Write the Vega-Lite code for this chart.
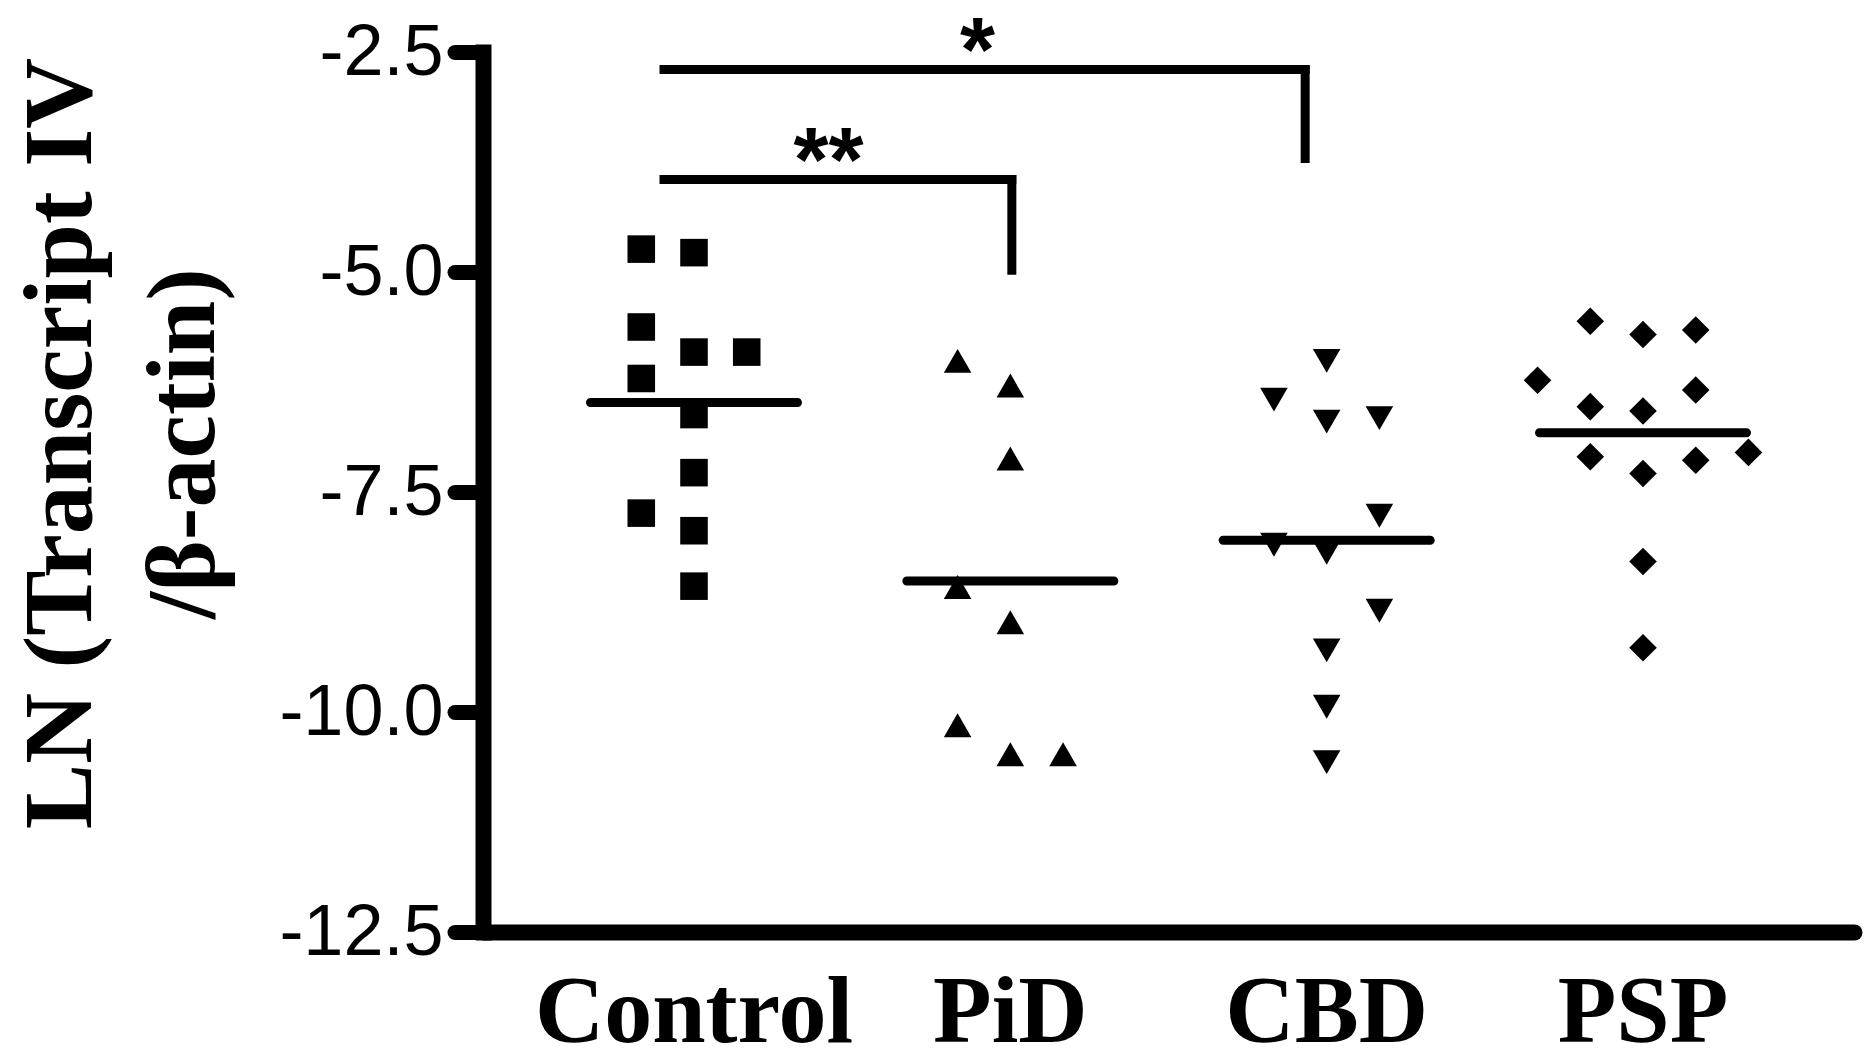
{
  "$schema": "https://vega.github.io/schema/vega-lite/v6.json",
  "width": 1371,
  "height": 880,
  "autosize": "none",
  "padding": {"left": 483, "top": 52, "right": 17, "bottom": 129},
  "background": "white",
  "config": {"view": {"stroke": null}, "axis": {"grid": false}},
  "datasets": {
    "points": [
      {"group": "Control", "slot": -1, "value": -4.74},
      {"group": "Control", "slot": 0, "value": -4.78},
      {"group": "Control", "slot": -1, "value": -5.625},
      {"group": "Control", "slot": 0, "value": -5.91},
      {"group": "Control", "slot": 1, "value": -5.91},
      {"group": "Control", "slot": -1, "value": -6.21},
      {"group": "Control", "slot": 0, "value": -6.62},
      {"group": "Control", "slot": 0, "value": -7.28},
      {"group": "Control", "slot": -1, "value": -7.74},
      {"group": "Control", "slot": 0, "value": -7.94},
      {"group": "Control", "slot": 0, "value": -8.57},
      {"group": "PiD", "slot": -1, "value": -6.01},
      {"group": "PiD", "slot": 0, "value": -6.29},
      {"group": "PiD", "slot": 0, "value": -7.12},
      {"group": "PiD", "slot": -1, "value": -8.58},
      {"group": "PiD", "slot": 0, "value": -8.98},
      {"group": "PiD", "slot": -1, "value": -10.15},
      {"group": "PiD", "slot": 0, "value": -10.48},
      {"group": "PiD", "slot": 1, "value": -10.48},
      {"group": "CBD", "slot": 0, "value": -6.01},
      {"group": "CBD", "slot": -1, "value": -6.45},
      {"group": "CBD", "slot": 0, "value": -6.70},
      {"group": "CBD", "slot": 1, "value": -6.66},
      {"group": "CBD", "slot": 1, "value": -7.77},
      {"group": "CBD", "slot": -1, "value": -8.10},
      {"group": "CBD", "slot": 0, "value": -8.19},
      {"group": "CBD", "slot": 1, "value": -8.85},
      {"group": "CBD", "slot": 0, "value": -9.30},
      {"group": "CBD", "slot": 0, "value": -9.94},
      {"group": "CBD", "slot": 0, "value": -10.57},
      {"group": "PSP", "slot": -1, "value": -5.56},
      {"group": "PSP", "slot": 0, "value": -5.71},
      {"group": "PSP", "slot": 1, "value": -5.66},
      {"group": "PSP", "slot": -2, "value": -6.23},
      {"group": "PSP", "slot": 1, "value": -6.34},
      {"group": "PSP", "slot": -1, "value": -6.53},
      {"group": "PSP", "slot": 0, "value": -6.58},
      {"group": "PSP", "slot": -1, "value": -7.10},
      {"group": "PSP", "slot": 0, "value": -7.29},
      {"group": "PSP", "slot": 1, "value": -7.14},
      {"group": "PSP", "slot": 2, "value": -7.05},
      {"group": "PSP", "slot": 0, "value": -8.29},
      {"group": "PSP", "slot": 0, "value": -9.27}
    ]
  },
  "layer": [
    {
      "data": {"name": "points"},
      "mark": {"type": "point", "filled": true, "size": 760, "opacity": 1, "color": "black", "strokeWidth": 0},
      "encoding": {
        "x": {
          "field": "group", "type": "nominal",
          "scale": {"type": "band", "domain": ["Control", "PiD", "CBD", "PSP"], "paddingInner": 0, "paddingOuter": 0.167},
          "axis": {
            "title": null, "ticks": false, "domainWidth": 16, "domainColor": "black", "domainCap": "round",
            "labelFont": "Liberation Serif", "labelFontWeight": "bold", "labelFontSize": 96, "labelColor": "black",
            "labelBaseline": "alphabetic", "labelPadding": 109, "labelAngle": 0, "labelLimit": 1000
          }
        },
        "xOffset": {
          "field": "slot", "type": "ordinal",
          "scale": {"type": "point", "domain": [-2, -1, 0, 1, 2], "padding": 1.95}
        },
        "y": {
          "field": "value", "type": "quantitative",
          "scale": {"domain": [-12.5, -2.5], "nice": false, "zero": false},
          "axis": {
            "title": ["LN (Transcript IV", "/β-actin)"],
            "values": [-2.5, -5, -7.5, -10, -12.5],
            "labelExpr": "datum.value % 1 == 0 ? datum.value + '.0' : '' + datum.value",
            "labelOverlap": false,
            "domainWidth": 16, "domainColor": "black", "domainCap": "square",
            "tickWidth": 15, "tickColor": "black", "tickSize": 28.5, "tickCap": "round",
            "labelFont": "Liberation Sans", "labelFontSize": 72, "labelColor": "black", "labelPadding": 11.5,
            "titleFont": "Liberation Serif", "titleFontWeight": "bold", "titleFontSize": 98, "titleLineHeight": 123,
            "titleColor": "black", "titleX": -393, "titleY": 391, "titleAlign": "center", "titleBaseline": "alphabetic", "titleAngle": 270
          }
        },
        "shape": {
          "field": "group", "type": "nominal",
          "scale": {"domain": ["Control", "PiD", "CBD", "PSP"], "range": ["square", "triangle-up", "triangle-down", "diamond"]},
          "legend": null
        }
      }
    },
    {
      "data": {"name": "points"},
      "mark": {"type": "tick", "size": 216, "thickness": 9, "cornerRadius": 4.5, "color": "black", "opacity": 1},
      "encoding": {
        "x": {"field": "group", "type": "nominal"},
        "y": {"aggregate": "mean", "field": "value", "type": "quantitative"}
      }
    },
    {
      "data": {"values": [{"from": "Control", "to": "CBD", "y": -2.70}]},
      "mark": {"type": "rule", "strokeWidth": 9, "strokeCap": "square", "color": "black", "xOffset": -30, "x2Offset": -21.5},
      "encoding": {
        "x": {"field": "from", "type": "nominal", "bandPosition": 0.5},
        "x2": {"field": "to", "bandPosition": 0.5},
        "y": {"field": "y", "type": "quantitative"}
      }
    },
    {
      "data": {"values": [{"g": "CBD", "y": -2.70, "y2": -3.71}]},
      "mark": {"type": "rule", "strokeWidth": 9, "strokeCap": "square", "color": "black", "xOffset": -21.5},
      "encoding": {
        "x": {"field": "g", "type": "nominal", "bandPosition": 0.5},
        "y": {"field": "y", "type": "quantitative"},
        "y2": {"field": "y2"}
      }
    },
    {
      "data": {"values": [{"from": "Control", "to": "PiD", "y": -3.95}]},
      "mark": {"type": "rule", "strokeWidth": 9, "strokeCap": "square", "color": "black", "xOffset": -30, "x2Offset": 1.5},
      "encoding": {
        "x": {"field": "from", "type": "nominal", "bandPosition": 0.5},
        "x2": {"field": "to", "bandPosition": 0.5},
        "y": {"field": "y", "type": "quantitative"}
      }
    },
    {
      "data": {"values": [{"g": "PiD", "y": -3.95, "y2": -4.98}]},
      "mark": {"type": "rule", "strokeWidth": 9, "strokeCap": "square", "color": "black", "xOffset": 1.5},
      "encoding": {
        "x": {"field": "g", "type": "nominal", "bandPosition": 0.5},
        "y": {"field": "y", "type": "quantitative"},
        "y2": {"field": "y2"}
      }
    },
    {
      "data": {"values": [{"g": "PiD", "y": -2.70, "label": "*"}]},
      "mark": {"type": "text", "font": "Liberation Sans", "fontWeight": "bold", "fontSize": 90, "color": "black", "align": "center", "baseline": "alphabetic", "dx": -32.7, "dy": 11},
      "encoding": {
        "x": {"field": "g", "type": "nominal"},
        "y": {"field": "y", "type": "quantitative"},
        "text": {"field": "label"}
      }
    },
    {
      "data": {"values": [{"g": "Control", "y": -3.95, "label": "**"}]},
      "mark": {"type": "text", "font": "Liberation Sans", "fontWeight": "bold", "fontSize": 90, "color": "black", "align": "center", "baseline": "alphabetic", "dx": 134.5, "dy": 11},
      "encoding": {
        "x": {"field": "g", "type": "nominal"},
        "y": {"field": "y", "type": "quantitative"},
        "text": {"field": "label"}
      }
    }
  ]
}
